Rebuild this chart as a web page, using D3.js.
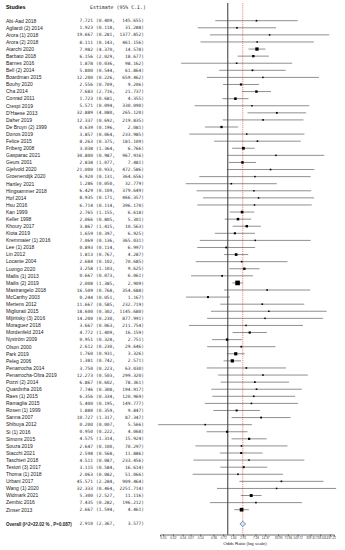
<!DOCTYPE html>
<html><head><meta charset="utf-8">
<script src="https://cdn.jsdelivr.net/npm/d3@7/dist/d3.min.js"></script>
<style>body{margin:0;background:#fff}svg{display:block}</style>
</head><body>
<script>
const studies = ["Abi-Aad 2018","Agliardi (2) 2014","Arora (1) 2018","Arora (2) 2018","Atarchi 2020","Barbato 2018","Barnes 2016","Bell (2) 2014","Boardman 2015","Bouhy 2020","Cha 2014","Conrad 2011","Crespi 2019","D'Haese 2013","Daher 2019","De Bruyn (2) 1999","Donos 2019","Felice 2015","Friberg 2008","Gasparac 2021","Geurs 2001","Gjelvold 2020","Groenendijk 2020","Hartley 2021","Hingsammer 2018","Hof 2014","Hsu 2016","Kan 1999","Keller 1998","Khoury 2017","Kiota 2019","Kremmaier (1) 2016","Lee (1) 2018","Lin 2012","Locante 2004","Luongo 2020","Mailis (1) 2013","Mailis (2) 2019","Mastrangelo 2018","McCarthy 2003","Mertens 2012","Migliorati 2015","Mijiritsky (3) 2016","Moraguez 2018","Mordenfeld 2014","Nyström 2009","Olson 2000","Park 2019","Peleg 2006","Penarrocha 2014","Penarrocha-Oltra 2019","Pozzi (2) 2014","Quardinha 2016","Raes (1) 2015","Ramaglia 2015","Rosen (1) 1999","Sanna 2007","Shibuya 2012","Si (1) 2016","Simons 2015","Souza 2019","Stacchi 2021","Taschieri 2018","Testori (3) 2017","Thoma (1) 2018","Urbani 2017","Wang (1) 2020","Widmark 2021","Zembic 2016","Zinser 2013"];
const estimate = [7.721,1.923,19.667,8.111,7.982,6.156,1.878,5.800,12.200,2.556,7.683,1.723,5.571,32.889,12.337,0.639,3.857,8.263,3.038,30.800,2.838,21.000,6.920,1.286,6.429,8.935,6.714,2.765,2.066,3.867,1.659,7.069,0.893,1.813,2.684,3.258,0.667,2.008,16.509,0.244,11.667,18.600,14.200,3.667,4.772,0.951,2.612,1.760,1.381,3.750,12.273,6.867,7.746,6.356,5.400,1.880,10.727,0.200,0.950,4.575,2.647,2.598,4.511,3.115,2.063,45.571,32.333,5.300,7.435,2.667];
const lower = [0.409,0.118,0.281,0.143,4.370,2.029,0.036,0.544,0.226,0.709,2.716,0.681,0.094,4.080,0.692,0.196,0.064,0.375,1.364,0.987,1.077,0.933,0.131,0.050,0.109,0.171,0.114,1.155,0.805,1.415,0.397,0.136,0.114,0.767,0.102,1.103,0.073,1.385,0.768,0.051,0.585,0.302,0.230,0.063,1.409,0.328,0.230,0.931,0.742,0.223,0.503,0.602,0.308,0.334,0.195,0.359,1.317,0.007,0.222,1.314,0.100,0.568,0.087,0.584,0.082,2.284,0.464,2.527,0.282,1.594];
const upper = [145.655,31.288,1377.852,461.156,14.578,18.677,98.162,61.864,659.462,9.206,21.737,4.355,330.090,265.120,219.835,2.081,233.985,181.109,6.766,967.916,7.481,472.586,364.656,32.779,379.649,466.357,396.170,6.618,5.301,10.563,6.925,365.031,6.997,4.287,70.685,9.625,6.061,2.909,354.688,1.167,232.719,1145.680,877.991,211.754,16.159,2.751,29.646,3.326,2.571,63.030,299.320,78.361,194.917,120.969,149.777,9.847,87.347,5.566,4.068,15.924,70.297,11.886,233.456,16.614,51.066,909.464,2251.714,11.116,196.212,4.461];
const overall = {label:"Overall (I^2=22.02 % , P=0.087)", est:2.910, lo:2.367, hi:3.577};
const tickValues = [0.01,0.02,0.04,0.07,0.14,0.36,0.72,1.44,2.91,7.18,14.37,35.93,71.86,143.72,359.31,718.61,1437.22];
const tickLabels = ["0.01","0.02","0.04","0.07","0.14","0.36","0.72","1.44","2.91","7.18","14.37","35.93","71.86","143.72","359.31","718.61","1437.22"];

const W = 345, H = 550;
const svg = d3.select("body").append("svg").attr("width", W).attr("height", H);

const x = d3.scaleLog().domain([0.008, 1930]).range([160, 334]);
const rowY = d3.scaleLinear().domain([0, studies.length - 1]).range([20.7, 509.7]);
const overallY = rowY(studies.length + 1);
const axisY = 534.5;

// weights for square size (inverse variance)
const weights = lower.map((l, i) => { const se = (Math.log(upper[i]) - Math.log(l)) / (2 * 1.96); return 1 / (se * se); });
const size = d3.scaleSqrt().domain([0, d3.max(weights)]).range([1.2, 4.6]);

const fmt = d3.format(".3f");
const sans = "Liberation Sans, Arial, sans-serif";
const mono = "DejaVu Sans Mono, Liberation Mono, monospace";

// headers
svg.append("text").attr("x", 6).attr("y", 8.8).attr("font-family", sans).attr("font-weight", "bold")
  .attr("font-size", 5.4).text("Studies");
svg.append("text").attr("x", 90).attr("y", 8.8).attr("font-family", mono)
  .attr("font-size", 4.9).attr("fill", "#222").text("Estimate (95% C.I.)");

// reference lines
svg.append("line").attr("x1", x(1)).attr("x2", x(1)).attr("y1", 3).attr("y2", axisY)
  .attr("stroke", "#000").attr("stroke-width", 0.8);
svg.append("line").attr("x1", x(overall.est)).attr("x2", x(overall.est)).attr("y1", 3).attr("y2", axisY)
  .attr("stroke", "#e8352f").attr("stroke-width", 0.6).attr("stroke-dasharray", "1.2,0.9");

const rows = svg.append("g").selectAll("g").data(studies).join("g")
  .attr("transform", (d, i) => `translate(0,${rowY(i)})`);

rows.append("text").attr("x", 6).attr("y", 1.8).attr("font-family", sans).attr("font-size", 5)
  .attr("fill", "#222").text(d => d);
rows.append("text").attr("x", 93).attr("y", 1.6).attr("text-anchor", "end").attr("font-family", mono)
  .attr("font-size", 4.5).attr("fill", "#333").text((d, i) => fmt(estimate[i]));
rows.append("text").attr("x", 96).attr("y", 1.6).attr("font-family", mono)
  .attr("font-size", 4.5).attr("fill", "#333").text((d, i) => "(" + fmt(lower[i]) + ",");
rows.append("text").attr("x", 144).attr("y", 1.6).attr("text-anchor", "end").attr("font-family", mono)
  .attr("font-size", 4.5).attr("fill", "#333").text((d, i) => fmt(upper[i]) + ")");

rows.append("line").attr("x1", (d, i) => x(lower[i])).attr("x2", (d, i) => x(upper[i]))
  .attr("y1", 0).attr("y2", 0).attr("stroke", "#444").attr("stroke-width", 0.6);
rows.append("rect")
  .attr("x", (d, i) => x(estimate[i]) - size(weights[i]) / 2)
  .attr("y", (d, i) => -size(weights[i]) / 2)
  .attr("width", (d, i) => size(weights[i]))
  .attr("height", (d, i) => size(weights[i]))
  .attr("fill", "#000");

// overall row
svg.append("text").attr("x", 6).attr("y", overallY + 1.8).attr("font-family", sans).attr("font-weight", "bold")
  .attr("font-size", 4.5).attr("fill", "#222").text(overall.label);
svg.append("text").attr("x", 93).attr("y", overallY + 1.6).attr("text-anchor", "end").attr("font-family", mono)
  .attr("font-size", 4.5).attr("fill", "#333").text(fmt(overall.est));
svg.append("text").attr("x", 96).attr("y", overallY + 1.6).attr("font-family", mono)
  .attr("font-size", 4.5).attr("fill", "#333").text("(" + fmt(overall.lo) + ",");
svg.append("text").attr("x", 144).attr("y", overallY + 1.6).attr("text-anchor", "end").attr("font-family", mono)
  .attr("font-size", 4.5).attr("fill", "#333").text(fmt(overall.hi) + ")");
const dh = 2.6;
svg.append("path")
  .attr("d", `M${x(overall.lo)},${overallY} L${x(overall.est)},${overallY - dh} L${x(overall.hi)},${overallY} L${x(overall.est)},${overallY + dh} Z`)
  .attr("fill", "#d6e6f5").attr("stroke", "#2b5d9b").attr("stroke-width", 0.6);

// axis
const axis = svg.append("g").attr("transform", `translate(0,${axisY})`)
  .call(d3.axisBottom(x).tickValues(tickValues).tickFormat((d, i) => tickLabels[i]).tickSize(2).tickSizeOuter(2));
axis.select(".domain").attr("stroke", "#000").attr("stroke-width", 0.6);
axis.selectAll(".tick line").attr("stroke", "#000").attr("stroke-width", 0.5);
axis.selectAll(".tick text").attr("font-family", sans).attr("font-size", 3.1).attr("dy", "0.5em").attr("y", 2.6).attr("fill", "#333");

svg.append("text").attr("x", 245).attr("y", 545).attr("text-anchor", "middle").attr("font-family", sans)
  .attr("font-size", 4.4).attr("fill", "#222").text("Odds Ratio (log scale)");
</script>
</body></html>
